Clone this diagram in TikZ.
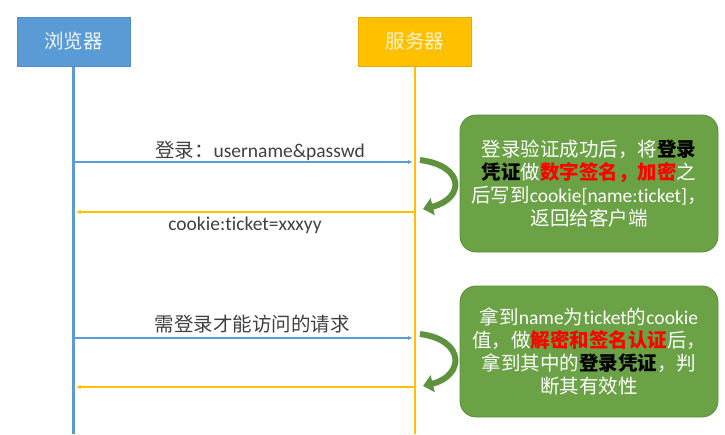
\documentclass[tikz,border=0pt]{standalone}
\usepackage{fontspec}
\setmainfont{Noto Sans CJK SC}
\newfontfamily\lat[Ligatures=NoCommon]{Carlito}
\usetikzlibrary{arrows.meta}

\definecolor{lineblue}{HTML}{5B9BD5}
\definecolor{edgeblue}{HTML}{4F8CC9}
\definecolor{lineorange}{HTML}{FFC000}
\definecolor{edgeorange}{HTML}{E6AC00}
\definecolor{boxgreen}{HTML}{6AA245}
\definecolor{edgegreen}{HTML}{5A8C3A}
\definecolor{msgtext}{HTML}{404040}

\tikzset{
  lifebox/.style={draw, line width=0.8pt, minimum width=113pt, minimum height=49pt, inner sep=0pt, font=\fontsize{19.5}{22}\selectfont},
  lifeline/.style={line width=2.6pt},
  msg/.style={line width=1.1pt, -{Latex[length=5pt,width=4pt]}},
  msglabel/.style={text=msgtext, inner sep=0pt, font=\fontsize{19.5}{22}\selectfont},
  notebox/.style={draw=edgegreen, fill=boxgreen, line width=0.8pt, rounded corners=16pt, minimum width=258pt, align=center, text=white, font=\fontsize{19.5}{23}\selectfont},
  turn/.style={draw=boxgreen!90!black, line width=6pt, -{Triangle[width=17pt,length=10pt]}},
}

\begin{document}
\begin{tikzpicture}[x=1pt, y=-1pt]

    \useasboundingbox (0,0) rectangle (725,434);

    % lifelines
    \coordinate (browserend) at (73.5, 434);
    \coordinate (serverend)  at (415, 434);
    \draw[lifeline, lineblue]   (73.5, 66) -- (browserend);
    \draw[lifeline, lineorange] (415, 66) -- (serverend);

    \node (browser) at (73.5, 41.5) [lifebox, fill=lineblue, draw=edgeblue, text=white!90!lineblue] {浏览器};
    \node (server)  at (415, 41.5)  [lifebox, fill=lineorange, draw=edgeorange, text=white!80!lineorange] {服务器};

    % login
    \coordinate (b1) at (73.5, 162);
    \coordinate (s1) at (415, 162);
    \draw[msg, lineblue] (b1) -- ([xshift=-2pt]s1);
    \node (login) at (260, 151) [msglabel] {登录：{\lat username\&passwd}};

    \coordinate (s2) at (415, 212);
    \coordinate (b2) at (73.5, 212);
    \draw[msg, lineorange] (s2) -- ([xshift=2pt]b2);
    \node (cookie) at (245, 225) [msglabel] {\lat cookie:ticket=xxxyy};

    \node (note1) at (589, 183.5) [notebox, minimum height=137pt]
        {登录验证成功后，将{\bfseries\color{black}登录}\\
         {\bfseries\color{black}凭证}做{\bfseries\color{red}数字签名，加密}之\\
         后写到{\lat cookie[name:ticket]}，\\
         返回给客户端};

    \coordinate (t1a) at (420, 160);
    \coordinate (t1b) at (423, 209);
    \draw[turn] (t1a) .. controls (466, 166) and (464, 199) .. (t1b);

    % request
    \coordinate (b3) at (73.5, 338);
    \coordinate (s3) at (415, 338);
    \draw[msg, lineblue] (b3) -- ([xshift=-2pt]s3);
    \node (request) at (252, 324) [msglabel] {需登录才能访问的请求};

    \coordinate (s4) at (415, 387);
    \coordinate (b4) at (73.5, 387);
    \draw[msg, lineorange] (s4) -- ([xshift=2pt]b4);

    \node (note2) at (589, 351.5) [notebox, minimum height=131pt]
        {拿到{\lat name}为{\lat ticket}的{\lat cookie}\\
         值，做{\bfseries\color{red}解密和签名认证}后，\\
         拿到其中的{\bfseries\color{black}登录凭证}，判\\
         断其有效性};

    \coordinate (t2a) at (420, 334);
    \coordinate (t2b) at (423, 386);
    \draw[turn] (t2a) .. controls (466, 340) and (464, 376) .. (t2b);

\end{tikzpicture}
\end{document}
